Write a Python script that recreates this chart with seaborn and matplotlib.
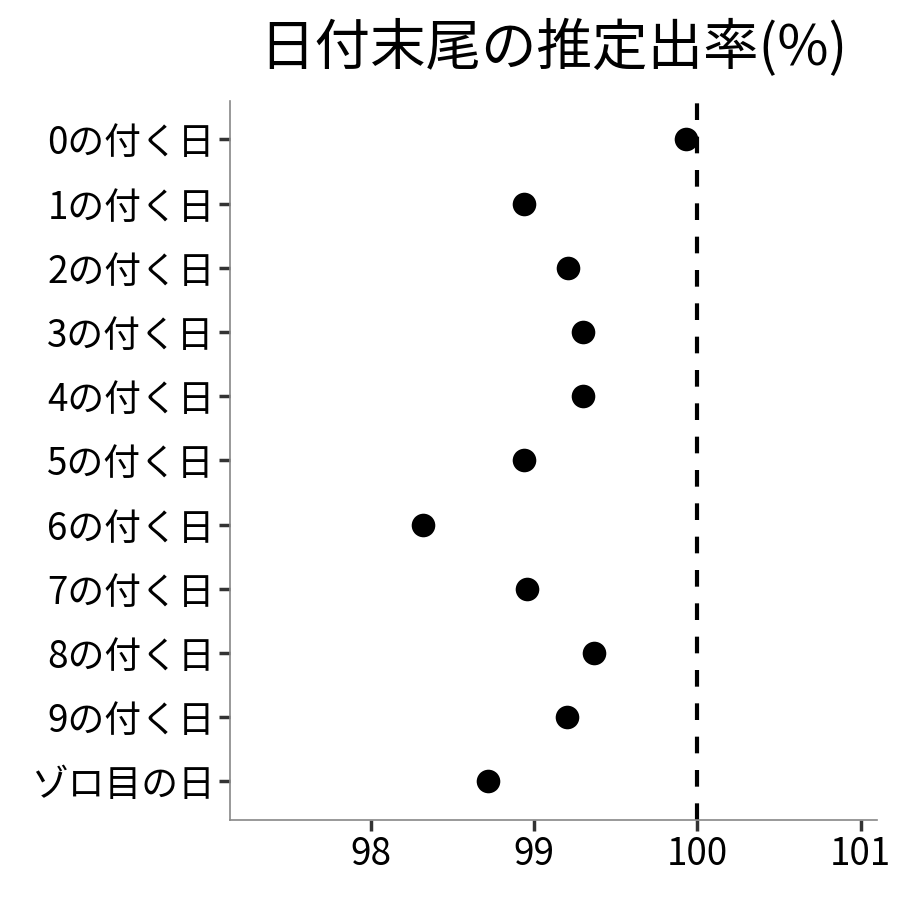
import matplotlib
matplotlib.use("Agg")
import matplotlib.pyplot as plt
import pandas as pd
import seaborn as sns

# data
days = ["0の付く日", "1の付く日", "2の付く日", "3の付く日", "4の付く日",
        "5の付く日", "6の付く日", "7の付く日", "8の付く日", "9の付く日", "ゾロ目の日"]
rate = [99.93, 98.94, 99.21, 99.30, 99.30, 98.94, 98.32, 98.96, 99.37, 99.20, 98.72]
xticks = [98, 99, 100, 101]

df = pd.DataFrame({"day": days, "rate": rate})

sns.set_style("ticks")
plt.rcParams["font.family"] = ["Noto Sans CJK JP", "DejaVu Sans"]

fig = plt.figure(figsize=(9, 9), dpi=100)
ax = fig.add_axes([0.2556, 0.0889, 0.7188, 0.7989])

ax.axvline(100, color="black", lw=3, linestyle=(0, (4, 4)), zorder=1)
sns.stripplot(data=df, x="rate", y="day", order=days, jitter=False,
              color="black", size=17, linewidth=0, ax=ax, zorder=3)

ax.set_xlim(97.14, 101.1)
ax.set_ylim(10.6, -0.6)
ax.set_xticks(xticks)
ax.set_xlabel("")
ax.set_ylabel("")
ax.set_title("日付末尾の推定出率(%)", fontsize=40, pad=26, color="black")

sns.despine(ax=ax)
for s in ["left", "bottom"]:
    ax.spines[s].set_color("#888888")
    ax.spines[s].set_linewidth(1.2)
ax.tick_params(axis="both", length=8, width=2.5, color="#333333",
               labelsize=26.5, labelcolor="black", pad=3)

fig.savefig("out.png", dpi=100)
